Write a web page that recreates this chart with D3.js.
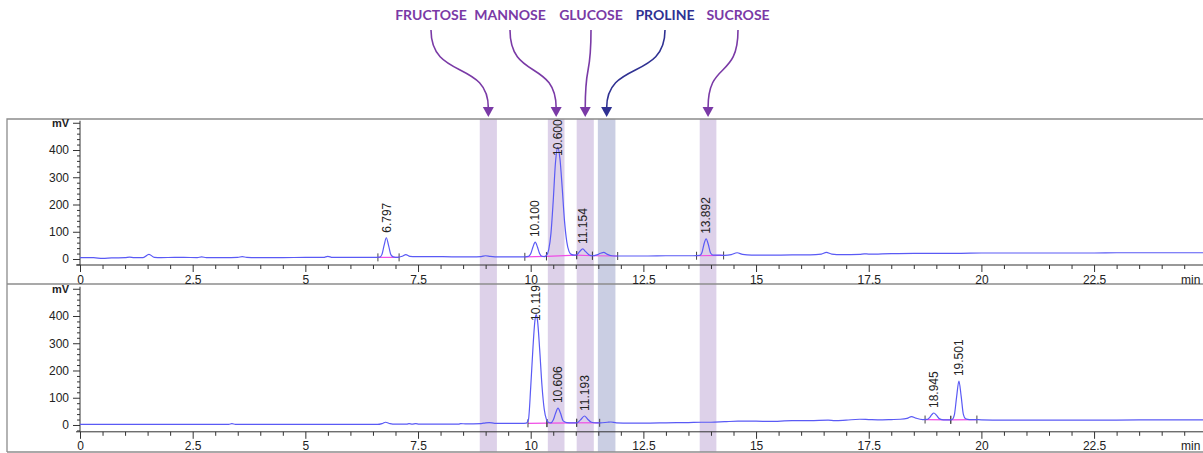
<!DOCTYPE html>
<html>
<head>
<meta charset="utf-8">
<script src="https://cdn.jsdelivr.net/npm/d3@7"></script>
<style>
  html, body { margin: 0; padding: 0; background: #fff; }
  svg { display: block; }
</style>
</head>
<body>
<svg id="chart" width="1203" height="453"></svg>
<script>
// ---------------- DATA ----------------
// Compound names shown in the header and their retention windows (minutes)
const compoundNames = ["FRUCTOSE", "MANNOSE", "GLUCOSE", "PROLINE", "SUCROSE"];
const windowStart   = [8.87, 10.38, 11.02, 11.49, 13.75];
const windowEnd     = [9.25, 10.75, 11.40, 11.88, 14.12];
const compoundKind  = ["sugar", "sugar", "sugar", "amino", "sugar"];

// X axis ticks (minutes)
const xMajorTicks = [0, 2.5, 5, 7.5, 10, 12.5, 15, 17.5, 20, 22.5];
const xUnit = "min";
// Y axis ticks (mV)
const yMajorTicks = [0, 100, 200, 300, 400, 500];
const yUnit = "mV";

// Chromatogram 1 (top) : [time (min), signal (mV)]
const trace1 = [
  [0,5],[0.3,5],[0.5,2],[0.7,4],[1.0,5],[1.1,7],[1.2,5],[1.4,5],[1.53,17],[1.65,6],[1.8,5],
  [2.1,6],[2.3,6],[2.6,5],[2.7,8],[2.8,5],[3.2,5],[3.5,6],[3.6,9],[3.7,6],[4.0,5],[4.5,5],
  [5.0,6],[5.4,6],[5.5,10],[5.6,6],[6.0,6],[6.5,6],[6.65,7],[6.7,17],[6.75,52],[6.797,78],
  [6.85,47],[6.9,15],[6.95,8],[7.05,6],[7.15,10],[7.23,16],[7.32,10],[7.45,9],[7.8,9],[8.3,8],
  [8.7,8],[8.9,9],[9.0,12],[9.1,10],[9.3,8],[9.6,8],[9.87,8],[9.95,9.5],[10.0,19],[10.05,44],
  [10.1,62],[10.15,44],[10.2,19],[10.25,10],[10.3,9],[10.35,13],[10.4,34],[10.45,95],[10.5,214],
  [10.55,354],[10.6,410],[10.65,366],[10.7,259],[10.75,140],[10.8,64],[10.85,28],[10.9,17],
  [10.97,14],[11.02,15],[11.09,28],[11.154,37],[11.22,27],[11.3,15],[11.37,12],[11.45,14],
  [11.55,21],[11.62,24],[11.7,17],[11.8,12],[11.93,11],[12.2,11],[12.6,11],[13.0,12],[13.3,12],
  [13.6,12],[13.75,13],[13.8,24],[13.85,58],[13.892,74],[13.94,54],[13.99,22],[14.05,14],
  [14.2,14],[14.3,13],[14.45,16],[14.58,23],[14.7,17],[14.9,14],[15.3,14],[15.8,15],[16.2,15],
  [16.45,18],[16.56,24],[16.68,18],[16.9,16],[17.3,17],[17.4,19],[17.5,18],[18.0,20],[18.5,21],
  [19.0,21],[19.5,21],[20.0,22],[20.5,22],[21.0,22],[22.0,22],[22.5,22],[23.0,23],[24.0,23],[25.3,23]
];

// Chromatogram 2 (bottom)
const trace2 = [
  [0,2],[1,2],[2,2],[3,2],[3.3,2],[3.37,5],[3.45,2],[4,2],[5,2],[6,2],[6.6,2],[6.7,5],
  [6.78,10],[6.88,5],[7.0,3],[7.25,3],[7.3,5],[7.37,3],[7.45,5],[7.52,3],[8.0,3],[8.4,3],
  [8.45,5],[8.55,4],[8.9,5],[9.0,8],[9.08,9],[9.2,6],[9.5,6],[9.8,6],[9.9,7],[9.95,20],
  [10.0,138],[10.05,283],[10.09,377],[10.119,405],[10.15,385],[10.2,275],[10.25,145],
  [10.3,58],[10.35,20],[10.4,9],[10.45,8],[10.5,18],[10.55,42],[10.606,62],[10.66,44],
  [10.72,15],[10.8,9],[10.92,8],[11.02,8],[11.1,18],[11.193,33],[11.26,22],[11.35,10],
  [11.45,8],[11.55,8],[11.7,10],[11.78,11],[11.9,8],[12.2,7],[12.6,7],[13.0,8],[13.5,9],
  [13.8,10],[14.0,10],[14.3,12],[14.6,14],[15.0,14],[15.3,13],[15.8,16],[16.2,16],[16.6,18],
  [16.75,16],[17.0,18],[17.3,21],[17.5,20],[17.7,19],[18.0,20],[18.2,21],[18.35,24],[18.45,31],
  [18.55,25],[18.7,20],[18.8,20.5],[18.85,27],[18.9,38],[18.945,44],[19.0,36],[19.06,24],
  [19.12,20],[19.2,19],[19.32,19],[19.35,20],[19.4,37],[19.45,103],[19.501,161],[19.55,107],
  [19.6,39],[19.65,23],[19.74,20],[19.85,20],[20.0,19],[20.5,18],[21.0,18],[22.0,18],
  [22.5,18],[23.0,18],[24.0,19],[25.3,19]
];

// Labelled peaks: retention time and apex height (mV)
const peaks1Time   = [6.797, 10.100, 10.600, 11.154, 13.892];
const peaks1Height = [78, 62, 410, 37, 74];
const peaks2Time   = [10.119, 10.606, 11.193, 18.945, 19.501];
const peaks2Height = [405, 62, 33, 44, 161];

// Integration baselines: [t start, mV start, t end, mV end]
const integ1 = [[6.61,6,7.08,6],[9.87,8,10.35,10],[10.35,10,11.02,14],[11.02,14,11.37,12],
                [11.37,12,11.93,11],[13.68,12,14.28,13]];
const integ2 = [[9.94,6,10.36,7],[10.36,7,11.02,8],[11.02,8,11.53,8],
                [18.75,20,19.32,19],[19.32,19,19.9,20]];

// ---------------- LAYOUT / STYLE ----------------
const svg = d3.select("#chart");
const FONT = "'Liberation Sans', Arial, sans-serif";
const frameLeft = 7, frameRight = 1215;
const panels = [
  { top: 119, bottom: 284, yRange: [265, 122.75], yDomain: [-22, 500],
    trace: trace1, pT: peaks1Time, pH: peaks1Height, integ: integ1 },
  { top: 284, bottom: 452, yRange: [431.8, 288.75], yDomain: [-25, 500],
    trace: trace2, pT: peaks2Time, pH: peaks2Height, integ: integ2 }
];
const x = d3.scaleLinear().domain([0, 25.3]).range([80, 80 + 25.3 * 45.07]);

const bandFill = { sugar: "#ddd1e9", amino: "#cacee3" };
const headColor = { sugar: "#7a3aa6", amino: "#2f3192" };
const headerX = [431, 510, 591, 665, 738];

// ---------------- BANDS ----------------
svg.append("g").selectAll("rect")
  .data(compoundNames.map((n, i) => ({ n, s: windowStart[i], e: windowEnd[i], k: compoundKind[i] })))
  .join("rect")
  .attr("x", d => x(d.s))
  .attr("width", d => x(d.e) - x(d.s))
  .attr("y", panels[0].top)
  .attr("height", panels[1].bottom - panels[0].top)
  .attr("fill", d => bandFill[d.k]);

// ---------------- FRAMES ----------------
const frame = svg.append("g").attr("fill", "none").attr("stroke", "#8c8c8c").attr("stroke-width", 1.3);
frame.append("path").attr("d", `M${frameLeft},${panels[1].bottom} V${panels[0].top} H${frameRight}`);
frame.append("path").attr("d", `M${frameLeft},${panels[0].bottom} H${frameRight}`);
frame.append("path").attr("d", `M${frameLeft},${panels[1].bottom} H${frameRight}`);

// ---------------- PANELS ----------------
panels.forEach((p, pi) => {
  const y = d3.scaleLinear().domain(p.yDomain).range(p.yRange);
  const g = svg.append("g");
  const axisY = p.yRange[0];

  // y axis minor
  const yMinor = d3.range(-20, 501, 20).filter(v => v % 100 !== 0 && v >= p.yDomain[0]);
  g.append("g").attr("transform", "translate(80,0)")
    .call(d3.axisLeft(y).tickValues(yMinor).tickSize(3).tickSizeOuter(0).tickFormat(""))
    .call(s => s.select(".domain").remove());
  // y axis major
  g.append("g").attr("transform", "translate(80,0)")
    .call(d3.axisLeft(y).tickValues(yMajorTicks).tickSize(7).tickSizeOuter(0).tickPadding(4)
      .tickFormat(v => v === 500 ? yUnit : String(v)))
    .call(s => s.select(".domain").attr("d", `M0,${axisY}V${p.yRange[1] - 2}`))
    .call(s => s.selectAll("text").attr("font-family", FONT).attr("font-size", v => v === 500 ? 11 : 12)
      .attr("font-weight", v => v === 500 ? "bold" : "normal").attr("fill", "#222"));

  // x axis minor
  const xMinor = d3.range(0.5, 25.3, 0.5).filter(v => Math.abs(v / 2.5 - Math.round(v / 2.5)) > 1e-6);
  g.append("g").attr("transform", `translate(0,${axisY})`)
    .call(d3.axisBottom(x).tickValues(xMinor).tickSize(4).tickSizeOuter(0).tickFormat(""))
    .call(s => s.select(".domain").remove());
  // x axis major
  g.append("g").attr("transform", `translate(0,${axisY})`)
    .call(d3.axisBottom(x).tickValues(xMajorTicks).tickSize(7).tickSizeOuter(0).tickPadding(3)
      .tickFormat(d => String(d)))
    .call(s => s.select(".domain").attr("d", `M76,0H${x.range()[1]}`))
    .call(s => s.selectAll("text").attr("font-family", FONT).attr("font-size", 12).attr("fill", "#222"));
  g.append("text").attr("x", 1181).attr("y", axisY + 10).attr("dy", "0.71em")
    .attr("font-family", FONT).attr("font-size", 12).attr("fill", "#222").text(xUnit);
  g.selectAll(".tick line").attr("stroke", "#333");
  g.selectAll(".domain").attr("stroke", "#333");

  // integration baselines
  g.append("g").selectAll("line").data(p.integ).join("line")
    .attr("x1", d => x(d[0])).attr("y1", d => y(d[1]))
    .attr("x2", d => x(d[2])).attr("y2", d => y(d[3]))
    .attr("stroke", "#f04ce6").attr("stroke-width", 1.2);
  const marks = [];
  p.integ.forEach(d => { marks.push([d[0], d[1]]); marks.push([d[2], d[3]]); });
  g.append("g").selectAll("line").data(marks).join("line")
    .attr("x1", d => x(d[0])).attr("x2", d => x(d[0]))
    .attr("y1", d => y(d[1]) - 4).attr("y2", d => y(d[1]) + 4)
    .attr("stroke", "#444").attr("stroke-width", 1);

  // trace
  const line = d3.line().x(d => x(d[0])).y(d => y(d[1])).curve(d3.curveMonotoneX);
  g.append("path").datum(p.trace).attr("d", line)
    .attr("fill", "none").attr("stroke", "#5a5af5").attr("stroke-width", 1.2);

  // peak labels
  const labelLen = 36;
  g.append("g").selectAll("text")
    .data(p.pT.map((t, i) => ({ t, h: p.pH[i] })))
    .join("text")
    .attr("transform", d => {
      const yb = Math.max(y(d.h) - 5, p.top + labelLen + 1);
      return `translate(${x(d.t)},${yb}) rotate(-90)`;
    })
    .attr("dy", "0.35em")
    .attr("font-family", FONT).attr("font-size", 12).attr("fill", "#222")
    .text(d => d.t.toFixed(3));
});

// ---------------- HEADER ----------------
const head = svg.append("g");
compoundNames.forEach((n, i) => {
  const k = compoundKind[i];
  const c = headColor[k];
  const sx = headerX[i];
  const tx = x((windowStart[i] + windowEnd[i]) / 2);
  head.append("text").attr("x", sx).attr("y", 20).attr("text-anchor", "middle")
    .attr("font-family", "Lato, 'Noto Sans', sans-serif").attr("font-weight", 700)
    .attr("font-size", 14).attr("fill", c).text(n);
  head.append("path")
    .attr("d", `M${sx},30 C${sx},80 ${tx},60 ${tx},108`)
    .attr("fill", "none").attr("stroke", c).attr("stroke-width", 1.6);
  head.append("path")
    .attr("d", `M${tx - 5.5},107 L${tx + 5.5},107 L${tx},117 Z`)
    .attr("fill", c);
});
</script>
</body>
</html>
